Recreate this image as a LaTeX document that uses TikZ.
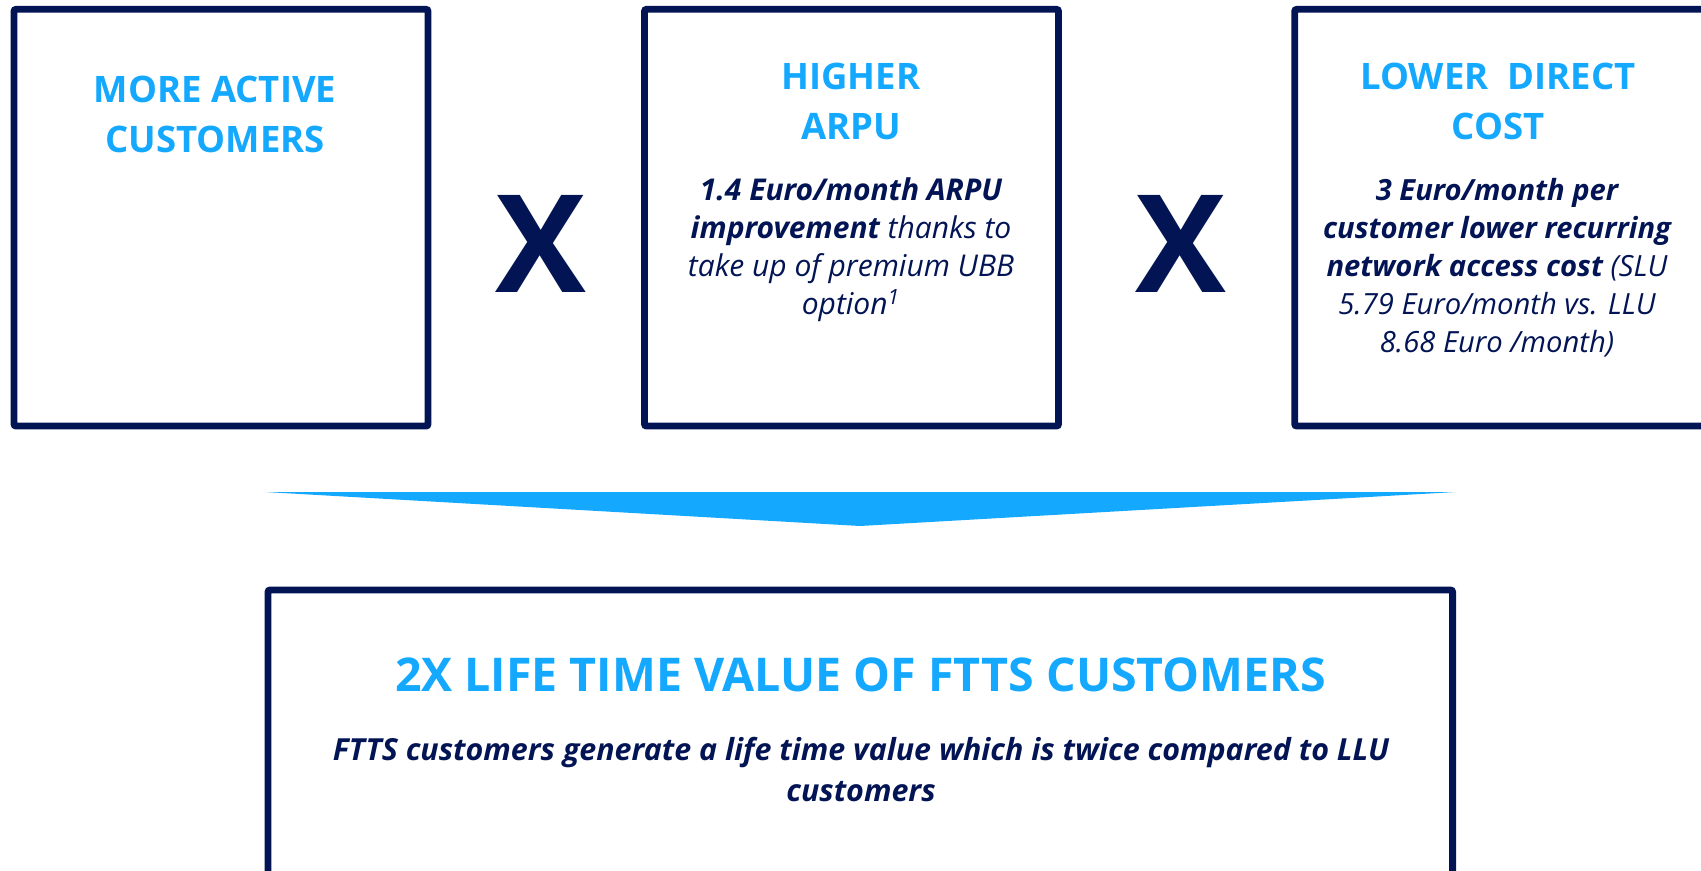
\documentclass[tikz,border=0pt]{standalone}
\usepackage{fontspec}
\setmainfont{Open Sans}
\usetikzlibrary{positioning}
\definecolor{navy}{HTML}{021454}
\definecolor{sky}{HTML}{14A8FF}

\begin{document}
\begin{tikzpicture}[x=0.5pt,y=-0.5pt,
  panel/.style={draw=navy,line width=3.4pt,rounded corners=1pt,minimum width=207pt,minimum height=208.35pt,inner sep=0pt},
  head/.style={text=sky,font=\fontsize{18.25}{25}\selectfont\bfseries,align=center,anchor=base,inner sep=0pt},
  body/.style={text=navy,font=\fontsize{14.6}{19}\selectfont\itshape,align=center,anchor=base,inner sep=0pt},
  times/.style={text=navy,font=\fontsize{68}{68}\selectfont\bfseries,inner sep=0pt}]
\clip (0,0) rectangle (1701,871);
% three drivers (text nodes sit on the baseline of their last line)
\node[panel] (active) at (221,217.7) {};
\node[panel] (arpu) at (851.5,217.7) {};
\node[panel] (cost) at (1501.7,217.7) {};
\node[head] (activeT) at (215,152.7) {MORE ACTIVE\\CUSTOMERS};
\node[head] (arpuT) at (851,140) {HIGHER\\ARPU};
\node[head] (costT) at (1498,139.3) {LOWER~~DIRECT\\COST};
\node[body,font=\fontsize{15}{19}\selectfont\itshape] (arpuB) at (851,315) {\textbf{1.4 Euro/month ARPU}\\\textbf{improvement} thanks to\\take up of premium UBB\\option\textsuperscript{1}};
\node[body] (costB) at (1497,353) {\textbf{3 Euro/month per}\\\textbf{customer lower recurring}\\\textbf{network access cost} (SLU\\5.79 Euro/month vs. LLU\\8.68 Euro /month)};
\node[times] (x1) at (541,243.5) {X};
\node[times] (x2) at (1181,243.5) {X};
% funnel down to the result
\fill[sky] (265,492) -- (1456,492) -- (860,526) -- cycle;
\node[panel,minimum width=592.3pt,minimum height=175pt] (ltv) at (860.3,765) {};
\node[head,font=\fontsize{23.25}{30}\selectfont\bfseries] (ltvT) at (860.5,691.7) {2X LIFE TIME VALUE OF FTTS CUSTOMERS};
\node[body,font=\fontsize{15.2}{20.5}\selectfont\bfseries\itshape] (ltvB) at (861,801.7) {FTTS customers generate a life time value which is twice compared to LLU\\customers};
\end{tikzpicture}
\end{document}
